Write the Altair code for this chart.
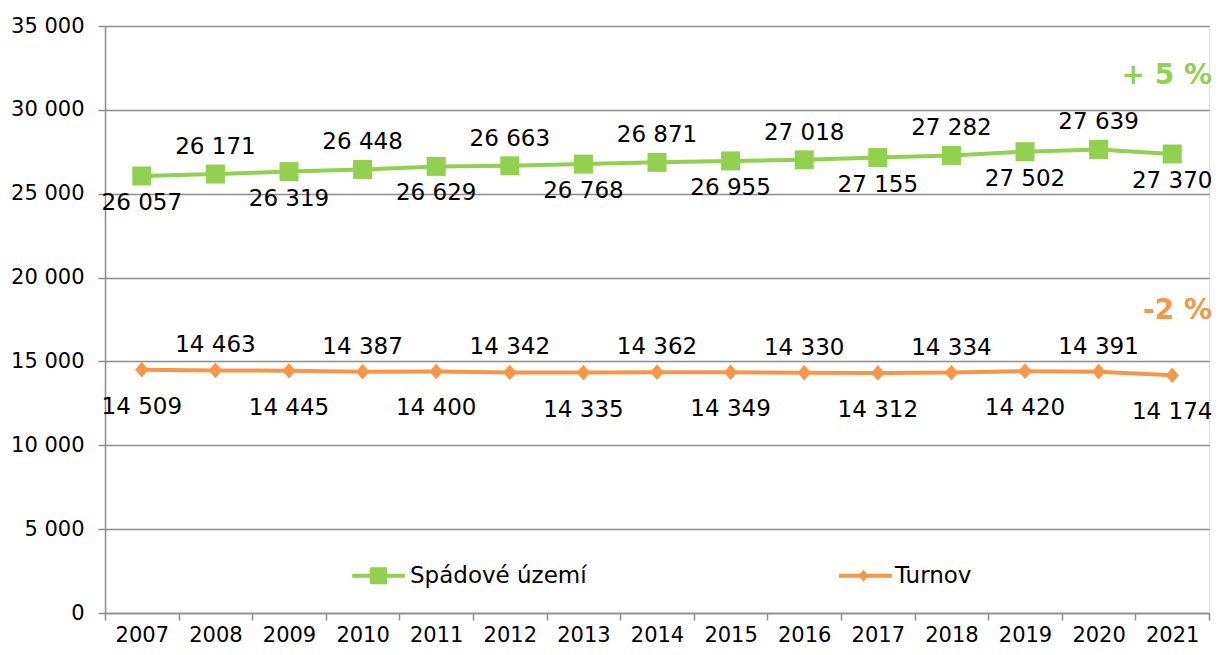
import altair as alt
import pandas as pd

years = [str(y) for y in range(2007, 2022)]
spadove = [26057, 26171, 26319, 26448, 26629, 26663, 26768, 26871, 26955,
           27018, 27155, 27282, 27502, 27639, 27370]
turnov = [14509, 14463, 14445, 14387, 14400, 14342, 14335, 14362, 14349,
          14330, 14312, 14334, 14420, 14391, 14174]
series_names = ["Spádové území", "Turnov"]
series_colors = ["#92D050", "#F79646"]
annotation_text = ["+ 5 %", "-2 %"]
annotation_value = [32000, 18000]
y_ticks = [0, 5000, 10000, 15000, 20000, 25000, 30000, 35000]

FONT = "DejaVu Sans"
GRID = "#8c8c8c"

rows = []
for i, y in enumerate(years):
    rows.append({"year": y, "series": series_names[0], "value": spadove[i], "idx": i})
    rows.append({"year": y, "series": series_names[1], "value": turnov[i], "idx": i})
df = pd.DataFrame(rows)
df["line_series"] = df["series"]

square_path = "M-1,-1H1V1H-1Z"
diamond_path = "M0,-0.7L0.6,0L0,0.7L-0.6,0Z"
legend_line_path = "M-3.1,0H3.1"

x_enc = alt.X("year:N", title=None, sort=years,
              scale=alt.Scale(type="band", paddingInner=0, paddingOuter=0),
              axis=alt.Axis(tickBand="extent", labelAngle=0, labelFont=FONT,
                            labelFontSize=21, labelColor="black", labelPadding=4,
                            domainColor=GRID, domainWidth=1.5, tickColor=GRID,
                            tickWidth=1.5, tickSize=7, grid=False))
y_enc = alt.Y("value:Q", title=None,
              scale=alt.Scale(domain=[0, 35000], nice=False),
              axis=alt.Axis(values=y_ticks,
                            labelExpr="replace(format(datum.value, ','), ',', ' ')",
                            labelFont=FONT, labelFontSize=21, labelColor="black",
                            labelPadding=14, domainColor=GRID, domainWidth=1.5,
                            tickColor=GRID, tickWidth=1.5, tickSize=7,
                            grid=True, gridColor=GRID, gridWidth=1.5))

common_legend = dict(title=None, orient="none", legendX=262, legendY=538,
                     direction="horizontal", labelFont=FONT, labelFontSize=23,
                     labelColor="black", symbolSize=289, labelOffset=20,
                     labelLimit=400)

marker_legend = alt.Legend(**common_legend, columnPadding=265, zindex=2)
line_legend = alt.Legend(**common_legend, columnPadding=244, symbolType=legend_line_path,
                         symbolStrokeWidth=4, labelOpacity=0, zindex=1)

color_enc = alt.Color("series:N", scale=alt.Scale(domain=series_names, range=series_colors),
                      legend=marker_legend)
shape_enc = alt.Shape("series:N", scale=alt.Scale(domain=series_names,
                                                  range=[square_path, diamond_path]),
                      legend=marker_legend)

base = alt.Chart(df)

lines = base.mark_line(strokeWidth=4).encode(
    x=x_enc, y=y_enc,
    stroke=alt.Stroke("line_series:N", scale=alt.Scale(range=series_colors),
                      legend=line_legend),
)

pts_green = base.transform_filter(alt.datum.series == series_names[0]).mark_point(
    filled=True, opacity=1, size=361).encode(x=x_enc, y=y_enc, color=color_enc, shape=shape_enc)
pts_orange = base.transform_filter(alt.datum.series == series_names[1]).mark_point(
    filled=True, opacity=1, size=500).encode(x=x_enc, y=y_enc, color=color_enc, shape=shape_enc)


def labels(series, parity, dy):
    return base.transform_filter(
        (alt.datum.series == series) & (alt.datum.idx % 2 == parity)
    ).transform_calculate(
        label="replace(format(datum.value, ','), ',', ' ')"
    ).mark_text(font=FONT, fontSize=23, color="black", baseline="middle",
                align="center", dy=dy).encode(x=x_enc, y=y_enc, text="label:N")


lab = [labels(series_names[0], 0, 27), labels(series_names[0], 1, -27),
       labels(series_names[1], 0, 37), labels(series_names[1], 1, -25)]

ann_df = pd.DataFrame({"text": annotation_text, "value": annotation_value,
                       "series": series_names})
ann = []
for i in range(2):
    ann.append(
        alt.Chart(ann_df).transform_filter(alt.datum.series == series_names[i])
        .mark_text(font=FONT, fontSize=28, fontWeight="bold", color=series_colors[i],
                   align="right", baseline="middle")
        .encode(x=alt.value(1107), y=alt.Y("value:Q", scale=alt.Scale(domain=[0, 35000], nice=False)),
                text="text:N")
    )

chart = alt.layer(lines, pts_green, pts_orange, *lab, *ann).properties(
    width=1104, height=587,
    autosize=alt.AutoSizeParams(type="none"),
    padding={"left": 97, "top": 18, "right": 4, "bottom": 34},
).configure_view(stroke=None).configure(background="white")

chart.save("out.html", embed_options={"renderer": "svg", "actions": False})
